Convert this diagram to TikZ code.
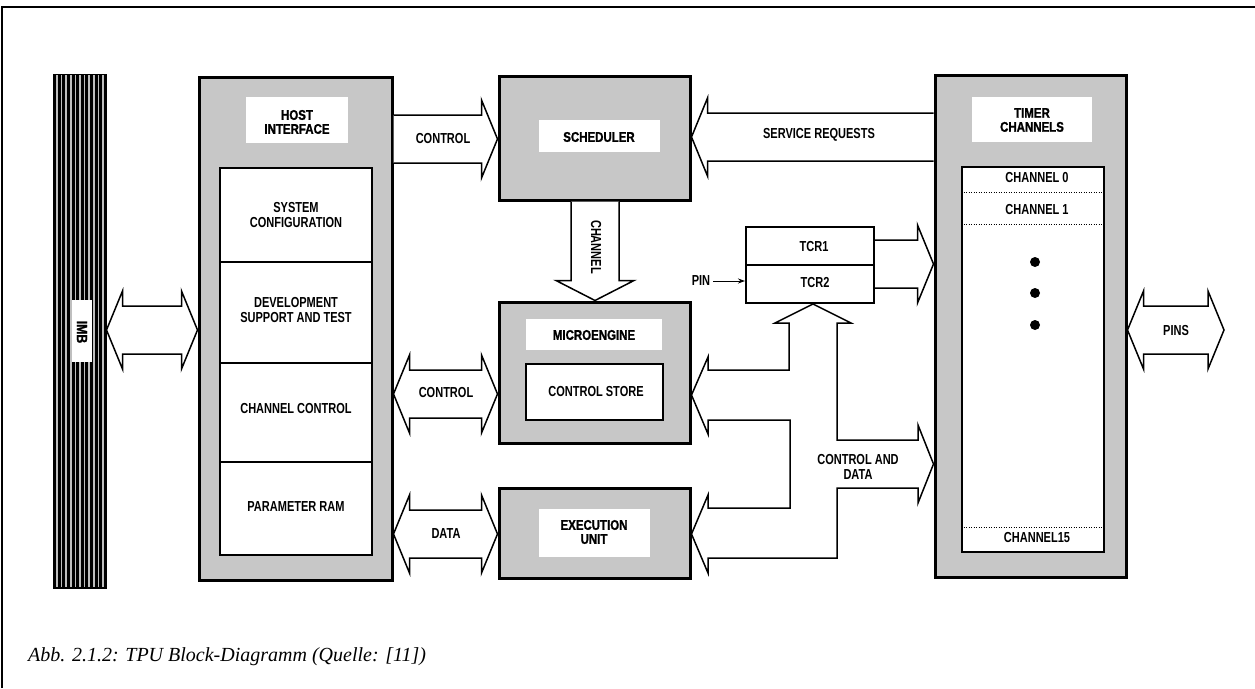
\documentclass[tikz,border=0pt]{standalone}
\usepackage{fontspec}
\setmainfont{Liberation Serif}
\newfontfamily\lblfont[FakeStretch=0.76,UprightFont=*,BoldFont=* Bold]{Liberation Sans}
\newfontfamily\ttlfont[FakeStretch=0.82,FakeBold=1.2]{Liberation Sans Bold}
\usetikzlibrary{fit,calc,arrows.meta}

% block arrows: tail anchor, tip anchor, centre line in picture units
\newcommand\arrowRight[3]{%
  \draw[blk] let \p1=(#1), \p2=(#2) in
    (\x1,-#3pt+24pt) -- (\x2-16pt,-#3pt+24pt) -- (\x2-16pt,-#3pt+39pt) -- (\x2,-#3pt)
    -- (\x2-16pt,-#3pt-39pt) -- (\x2-16pt,-#3pt-24pt) -- (\x1,-#3pt-24pt);}
\newcommand\arrowLeft[3]{%
  \draw[blk] let \p1=(#1), \p2=(#2) in
    (\x1,-#3pt+24pt) -- (\x2+16pt,-#3pt+24pt) -- (\x2+16pt,-#3pt+39pt) -- (\x2,-#3pt)
    -- (\x2+16pt,-#3pt-39pt) -- (\x2+16pt,-#3pt-24pt) -- (\x1,-#3pt-24pt);}
\newcommand\arrowBoth[3]{%
  \draw[blk] let \p1=(#1), \p2=(#2) in
    (\x1,-#3pt) -- (\x1+16pt,-#3pt+39pt) -- (\x1+16pt,-#3pt+24pt) -- (\x2-16pt,-#3pt+24pt)
    -- (\x2-16pt,-#3pt+39pt) -- (\x2,-#3pt) -- (\x2-16pt,-#3pt-39pt) -- (\x2-16pt,-#3pt-24pt)
    -- (\x1+16pt,-#3pt-24pt) -- (\x1+16pt,-#3pt-39pt) -- cycle;}
\newcommand\arrowDown[3]{%
  \draw[blk] let \p1=(#1), \p2=(#2) in
    (#3pt-24pt,\y1) -- (#3pt-24pt,\y2+20pt) -- (#3pt-39pt,\y2+20pt) -- (#3pt,\y2)
    -- (#3pt+39pt,\y2+20pt) -- (#3pt+24pt,\y2+20pt) -- (#3pt+24pt,\y1);}

\begin{document}
\begin{tikzpicture}[x=1pt,y=-1pt,
  unit/.style={draw, line width=3pt, fill=black!22, inner sep=0pt},
  title/.style={fill=white, inner sep=0pt, font=\ttlfont\fontsize{14}{14}\selectfont, align=center},
  inbox/.style={draw, line width=2pt, fill=white, inner sep=0pt},
  lbl/.style={inner sep=0pt, font=\lblfont\bfseries\fontsize{14.5}{15}\selectfont, align=center},
  blk/.style={draw, line width=1.5pt, line join=miter, fill=white},
  dotline/.style={line width=1pt, dash pattern=on 1pt off 1.5pt}]
\useasboundingbox (0,0) rectangle (1255,688);

% page frame
\draw[line width=2pt] (2,688) -- (2,7) -- (1255,7);

% IMB bus
\node[fit={(53,74)(106,588)}, inner sep=0pt, draw, fill=black, line width=1pt] (imb) {};
\foreach \x in {57,61.6,...,104} \draw[white!75!black, line width=1.5pt] (\x,75) -- (\x,587);
\node[fit={(72,300)(92,362)}, inner sep=0pt, fill=white] (imbbox) {};
\node[rotate=-90, font=\ttlfont\fontsize{15}{15}\selectfont] (imblbl) at (82,332) {IMB};

% host interface
\node[unit, fit={(199,77)(392,580)}] (host) {};
\node[title, fit={(246,97)(348,143)}] (hosttitle) {};
\node[title] (hostlbl) at (297,122) {HOST\\INTERFACE};
\node[inbox, fit={(220,168)(372,262)}] (sysconf) {};
\node[inbox, fit={(220,262)(372,363)}] (devsup) {};
\node[inbox, fit={(220,363)(372,462)}] (chanctl) {};
\node[inbox, fit={(220,462)(372,555)}] (pram) {};
\node[lbl] at (296,215) {SYSTEM\\CONFIGURATION};
\node[lbl] at (296,310) {DEVELOPMENT\\SUPPORT AND TEST};
\node[lbl] at (296,409) {CHANNEL CONTROL};
\node[lbl] at (296,507) {PARAMETER RAM};

% scheduler
\node[unit, fit={(499,76)(690,200)}] (sched) {};
\node[title, fit={(539,120)(660,152)}] (schedtitle) {};
\node[title] at (599,137) {SCHEDULER};

% microengine
\node[unit, fit={(499,302)(690,443)}] (micro) {};
\node[title, fit={(526,319)(662,350)}] (microtitle) {};
\node[title] at (594,335) {MICROENGINE};
\node[inbox, fit={(526,364)(663,420)}] (cstore) {};
\node[lbl] at (596,392) {CONTROL STORE};

% execution unit
\node[unit, fit={(499,488)(690,578)}] (exec) {};
\node[title, fit={(539,509)(650,557)}] (exectitle) {};
\node[title] at (594,532) {EXECUTION\\UNIT};

% timer count registers
\node[inbox, fit={(746,227)(874,265)}] (tcr1) {};
\node[inbox, fit={(746,265)(874,303)}] (tcr2) {};
\node[lbl] at (814,247) {TCR1};
\node[lbl] at (815,283) {TCR2};
\node[lbl] (pinlbl) at (701,281) {PIN};
\draw[line width=1pt, -{Stealth[length=7pt,width=5pt]}] ([xshift=3pt]pinlbl.east) -- (tcr2.west |- pinlbl.east);

% timer channels
\node[unit, fit={(935,75)(1126,577)}] (timer) {};
\node[title, fit={(972,97)(1092,142)}] (timertitle) {};
\node[title] at (1032,120) {TIMER\\CHANNELS};
\node[inbox, fit={(962,167)(1104,552)}] (tin) {};
\draw[dotline] (tin.west |- 0,192) -- (tin.east |- 0,192);
\draw[dotline] (tin.west |- 0,224) -- (tin.east |- 0,224);
\draw[dotline] (tin.west |- 0,527) -- (tin.east |- 0,527);
\node[lbl] (ch0) at (1037,178) {CHANNEL 0};
\node[lbl] (ch1) at (1037,210) {CHANNEL 1};
\node[lbl] (ch15) at (1037,538) {CHANNEL15};
\foreach \y in {262,293,325} \fill (1035,\y) circle (5);

% buses between the blocks
\arrowBoth{imb.east}{host.west}{330}
\arrowRight{host.east}{sched.west}{139}
\arrowLeft{timer.west}{sched.east}{137}
\arrowDown{sched.south}{micro.north}{595}
\arrowBoth{host.east}{micro.west}{394}
\arrowBoth{host.east}{exec.west}{534}
\arrowRight{tcr1.east}{timer.west}{264}
\arrowBoth{timer.east}{1224,330}{330}

% control and data bus with its branches
\draw[blk] (micro.east |- 0,395) -- (708,357) -- (708,370) -- (789,370) -- (789,323)
  -- (775,323) -- (tcr2.south -| 813,0) -- (851,323) -- (837,323) -- (837,440)
  -- (918,440) -- (918,425) -- (timer.west |- 0,464) -- (918,503) -- (918,488)
  -- (837,488) -- (837,558) -- (708,558) -- (708,573) -- (exec.east |- 0,534)
  -- (708,495) -- (708,508) -- (790,508) -- (790,420) -- (708,420) -- (708,434) -- cycle;

% bus labels
\node[lbl] (lctl1) at (443,139) {CONTROL};
\node[lbl] (lsreq) at (819,135) {SERVICE REQUESTS};
\node[lbl, rotate=-90] (lchan) at (596,247) {CHANNEL};
\node[lbl] (lctl2) at (446,393) {CONTROL};
\node[lbl] (ldata) at (446,534) {DATA};
\node[lbl] (lcad) at (858,467) {CONTROL AND\\DATA};
\node[lbl] (lpins) at (1176,331) {PINS};

% caption
\node[anchor=base west, inner sep=0pt, font=\itshape\fontsize{20}{20}\selectfont] (caption) at (28,661)
  {Abb. 2.1.2: TPU Block-Diagramm (Quelle: [11])};
\end{tikzpicture}
\end{document}
